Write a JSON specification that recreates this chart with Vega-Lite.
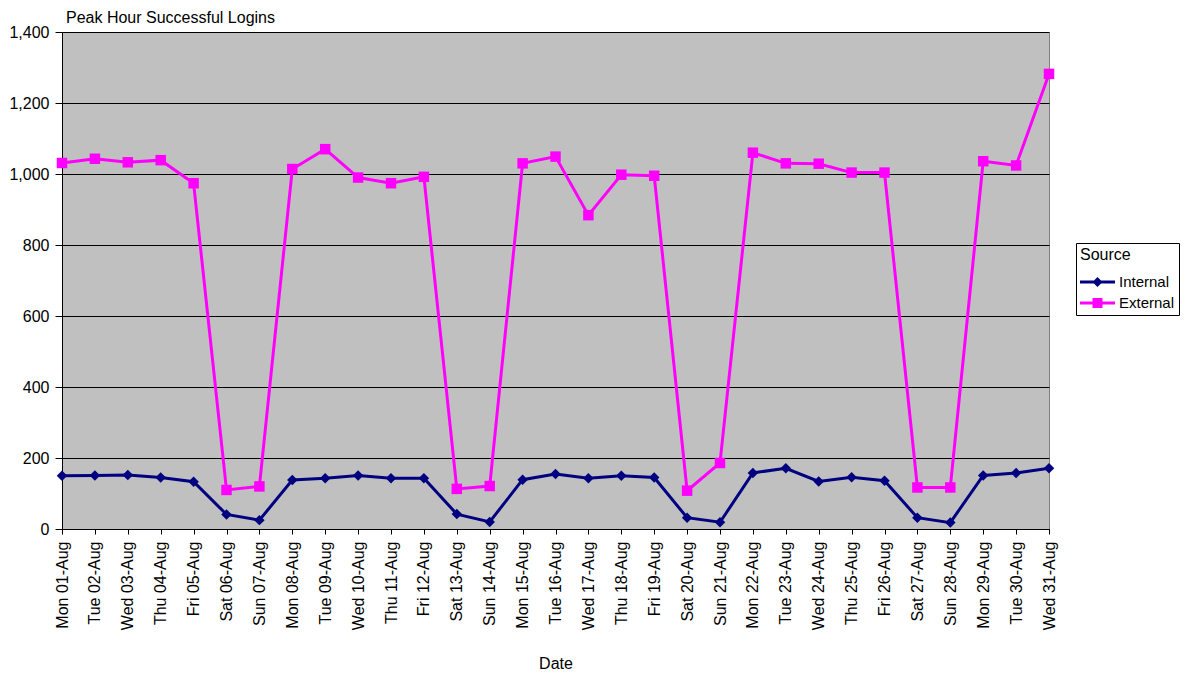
{
  "$schema": "https://vega.github.io/schema/vega-lite/v6.json",
  "width": 987,
  "height": 497,
  "autosize": {"type": "none"},
  "padding": {"left": 62, "top": 32, "right": 139, "bottom": 148},
  "background": "white",
  "title": {
    "text": "Peak Hour Successful Logins",
    "anchor": "start",
    "frame": "group",
    "dx": 4,
    "offset": -2,
    "font": "Liberation Sans",
    "fontSize": 16,
    "fontWeight": "normal",
    "color": "black"
  },
  "data": {
    "values": [
      {"Date": "Mon 01-Aug", "Source": "Internal", "Logins": 150},
      {"Date": "Tue 02-Aug", "Source": "Internal", "Logins": 151},
      {"Date": "Wed 03-Aug", "Source": "Internal", "Logins": 152},
      {"Date": "Thu 04-Aug", "Source": "Internal", "Logins": 145},
      {"Date": "Fri 05-Aug", "Source": "Internal", "Logins": 133},
      {"Date": "Sat 06-Aug", "Source": "Internal", "Logins": 41},
      {"Date": "Sun 07-Aug", "Source": "Internal", "Logins": 25},
      {"Date": "Mon 08-Aug", "Source": "Internal", "Logins": 138},
      {"Date": "Tue 09-Aug", "Source": "Internal", "Logins": 143},
      {"Date": "Wed 10-Aug", "Source": "Internal", "Logins": 151},
      {"Date": "Thu 11-Aug", "Source": "Internal", "Logins": 143},
      {"Date": "Fri 12-Aug", "Source": "Internal", "Logins": 143},
      {"Date": "Sat 13-Aug", "Source": "Internal", "Logins": 42},
      {"Date": "Sun 14-Aug", "Source": "Internal", "Logins": 20},
      {"Date": "Mon 15-Aug", "Source": "Internal", "Logins": 139},
      {"Date": "Tue 16-Aug", "Source": "Internal", "Logins": 155},
      {"Date": "Wed 17-Aug", "Source": "Internal", "Logins": 143},
      {"Date": "Thu 18-Aug", "Source": "Internal", "Logins": 150},
      {"Date": "Fri 19-Aug", "Source": "Internal", "Logins": 145},
      {"Date": "Sat 20-Aug", "Source": "Internal", "Logins": 32},
      {"Date": "Sun 21-Aug", "Source": "Internal", "Logins": 19},
      {"Date": "Mon 22-Aug", "Source": "Internal", "Logins": 158},
      {"Date": "Tue 23-Aug", "Source": "Internal", "Logins": 171},
      {"Date": "Wed 24-Aug", "Source": "Internal", "Logins": 134},
      {"Date": "Thu 25-Aug", "Source": "Internal", "Logins": 146},
      {"Date": "Fri 26-Aug", "Source": "Internal", "Logins": 136},
      {"Date": "Sat 27-Aug", "Source": "Internal", "Logins": 32},
      {"Date": "Sun 28-Aug", "Source": "Internal", "Logins": 18},
      {"Date": "Mon 29-Aug", "Source": "Internal", "Logins": 151},
      {"Date": "Tue 30-Aug", "Source": "Internal", "Logins": 158},
      {"Date": "Wed 31-Aug", "Source": "Internal", "Logins": 171},
      {"Date": "Mon 01-Aug", "Source": "External", "Logins": 1031},
      {"Date": "Tue 02-Aug", "Source": "External", "Logins": 1043},
      {"Date": "Wed 03-Aug", "Source": "External", "Logins": 1033},
      {"Date": "Thu 04-Aug", "Source": "External", "Logins": 1039},
      {"Date": "Fri 05-Aug", "Source": "External", "Logins": 974},
      {"Date": "Sat 06-Aug", "Source": "External", "Logins": 110},
      {"Date": "Sun 07-Aug", "Source": "External", "Logins": 120},
      {"Date": "Mon 08-Aug", "Source": "External", "Logins": 1014},
      {"Date": "Tue 09-Aug", "Source": "External", "Logins": 1070},
      {"Date": "Wed 10-Aug", "Source": "External", "Logins": 990},
      {"Date": "Thu 11-Aug", "Source": "External", "Logins": 974},
      {"Date": "Fri 12-Aug", "Source": "External", "Logins": 992},
      {"Date": "Sat 13-Aug", "Source": "External", "Logins": 113},
      {"Date": "Sun 14-Aug", "Source": "External", "Logins": 121},
      {"Date": "Mon 15-Aug", "Source": "External", "Logins": 1030},
      {"Date": "Tue 16-Aug", "Source": "External", "Logins": 1049},
      {"Date": "Wed 17-Aug", "Source": "External", "Logins": 884},
      {"Date": "Thu 18-Aug", "Source": "External", "Logins": 998},
      {"Date": "Fri 19-Aug", "Source": "External", "Logins": 995},
      {"Date": "Sat 20-Aug", "Source": "External", "Logins": 108},
      {"Date": "Sun 21-Aug", "Source": "External", "Logins": 186},
      {"Date": "Mon 22-Aug", "Source": "External", "Logins": 1060},
      {"Date": "Tue 23-Aug", "Source": "External", "Logins": 1030},
      {"Date": "Wed 24-Aug", "Source": "External", "Logins": 1029},
      {"Date": "Thu 25-Aug", "Source": "External", "Logins": 1004},
      {"Date": "Fri 26-Aug", "Source": "External", "Logins": 1004},
      {"Date": "Sat 27-Aug", "Source": "External", "Logins": 117},
      {"Date": "Sun 28-Aug", "Source": "External", "Logins": 117},
      {"Date": "Mon 29-Aug", "Source": "External", "Logins": 1036},
      {"Date": "Tue 30-Aug", "Source": "External", "Logins": 1024},
      {"Date": "Wed 31-Aug", "Source": "External", "Logins": 1282}
    ]
  },
  "encoding": {
    "x": {
      "field": "Date",
      "type": "ordinal",
      "sort": null,
      "scale": {"type": "point", "padding": 0},
      "axis": {
        "title": "Date",
        "labelAngle": -90,
        "labelFontSize": 16,
        "labelPadding": 7,
        "tickSize": 5,
        "titleFontSize": 16,
        "titleFontWeight": "normal",
        "titlePadding": 26
      }
    },
    "y": {
      "field": "Logins",
      "type": "quantitative",
      "scale": {"domain": [0, 1400], "nice": false},
      "axis": {
        "title": null,
        "values": [0, 200, 400, 600, 800, 1000, 1200, 1400],
        "format": ",d",
        "labelFontSize": 16,
        "labelPadding": 6,
        "tickSize": 7,
        "grid": true
      }
    },
    "color": {
      "field": "Source",
      "type": "nominal",
      "scale": {"domain": ["Internal", "External"], "range": ["#000080", "#ff00ff"]},
      "legend": {
        "title": "Source",
        "orient": "none",
        "legendX": 1014,
        "legendY": 211,
        "padding": 4,
        "strokeColor": "black",
        "fillColor": "white",
        "titleFontSize": 16,
        "titleFontWeight": "normal",
        "titlePadding": 9,
        "labelFontSize": 15,
        "labelOffset": 19,
        "rowPadding": 3,
        "symbolSize": 400,
        "symbolStrokeWidth": 0,
        "symbolOpacity": 1,
        "encode": {
          "symbols": {"update": {"opacity": {"value": 1}, "fillOpacity": {"value": 1}}}
        }
      }
    }
  },
  "layer": [
    {
      "mark": {"type": "line", "strokeWidth": 3}
    },
    {
      "transform": [{"filter": "datum.Source == 'Internal'"}],
      "mark": {"type": "point", "filled": true, "opacity": 1, "shape": "diamond", "size": 110}
    },
    {
      "transform": [{"filter": "datum.Source == 'External'"}],
      "mark": {"type": "point", "filled": true, "opacity": 1, "shape": "square", "size": 110}
    },
    {
      "mark": {"type": "point", "filled": true, "size": 0, "strokeWidth": 0},
      "encoding": {
        "shape": {
          "field": "Source",
          "type": "nominal",
          "scale": {
            "domain": ["Internal", "External"],
            "range": [
              "M-1,-0.15H2.5V0.15H-1ZM0.75,-0.5L1.25,0L0.75,0.5L0.25,0Z",
              "M-1,-0.15H2.5V0.15H-1ZM0.25,-0.5H1.25V0.5H0.25Z"
            ]
          }
        }
      }
    }
  ],
  "config": {
    "font": "Liberation Sans",
    "view": {"fill": "#c0c0c0", "stroke": "#808080", "strokeWidth": 1},
    "axis": {
      "labelColor": "black",
      "titleColor": "black",
      "domainColor": "black",
      "tickColor": "black",
      "gridColor": "black",
      "gridWidth": 1,
      "gridOpacity": 1,
      "domainWidth": 1,
      "labelFont": "Liberation Sans",
      "titleFont": "Liberation Sans"
    },
    "axisX": {"grid": false},
    "legend": {"labelColor": "black", "titleColor": "black", "labelFont": "Liberation Sans", "titleFont": "Liberation Sans"}
  }
}
